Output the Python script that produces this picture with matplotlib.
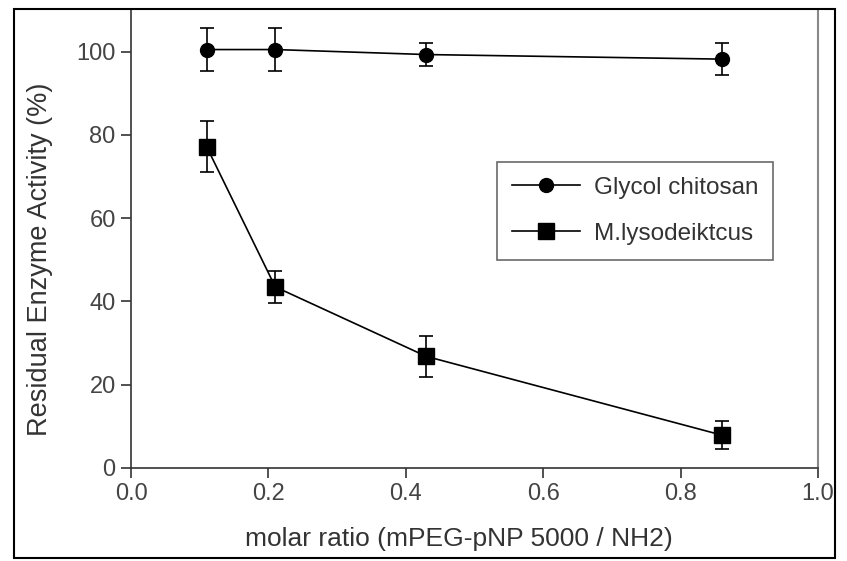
import matplotlib
matplotlib.use("Agg")
import matplotlib.pyplot as plt
from matplotlib.patches import Rectangle

plt.rcParams['font.family'] = ['Liberation Sans', 'DejaVu Sans']

ratio = [0.11, 0.21, 0.43, 0.86]
glycol = [100.5, 100.5, 99.3, 98.2]
glycol_err = [5.2, 5.2, 2.7, 3.8]
lyso = [77.2, 43.5, 26.8, 7.9]
lyso_err = [6.1, 3.8, 5.0, 3.4]
series_names = ['Glycol chitosan', 'M.lysodeiktcus']
x_ticks = [0.0, 0.2, 0.4, 0.6, 0.8, 1.0]
y_ticks = [0, 20, 40, 60, 80, 100]


def main():
    fig = plt.figure(figsize=(8.47, 5.61), dpi=100)
    ax = fig.add_axes([131 / 847, 1 - 468 / 561, (818 - 131) / 847, (468 - 10) / 561])

    # рамка вокруг всей картинки
    fig.patches.append(Rectangle((14 / 847, 3 / 561), (835 - 14) / 847, (552 - 3) / 561,
                                 transform=fig.transFigure, fill=False,
                                 edgecolor='black', linewidth=1.5))

    ax.errorbar(ratio, glycol, yerr=glycol_err, fmt='none', ecolor='black',
                elinewidth=1.2, capsize=5, capthick=1.2)
    ax.errorbar(ratio, lyso, yerr=lyso_err, fmt='none', ecolor='black',
                elinewidth=1.2, capsize=5, capthick=1.2)
    ax.plot(ratio, glycol, color='black', marker='o', markersize=10, linewidth=1.2,
            label=series_names[0])
    ax.plot(ratio, lyso, color='black', marker='s', markersize=11, linewidth=1.2,
            label=series_names[1])

    ax.set_xlim(0, 1.0)
    ax.set_ylim(0, 110)
    ax.set_xticks(x_ticks)
    ax.set_xticklabels(['0.0', '0.2', '0.4', '0.6', '0.8', '1.0'])
    ax.set_yticks(y_ticks)
    ax.tick_params(axis='both', direction='out', length=7, width=1.2, labelsize=17,
                   colors='#333333', labelcolor='#444444', pad=4)
    for side in ['left', 'bottom']:
        ax.spines[side].set_color('#333333')
        ax.spines[side].set_linewidth(1.2)
    ax.spines['right'].set_color('#888888')
    ax.spines['right'].set_linewidth(1.5)
    ax.spines['top'].set_visible(False)

    ax.set_xlabel('molar ratio (mPEG-pNP 5000 / NH2)', fontsize=19, color='#333333')
    ax.set_ylabel('Residual Enzyme Activity (%)', fontsize=19.5, color='#333333')
    ax.xaxis.set_label_coords((459 - 131) / 687, (468 - 527) / 458)
    ax.yaxis.set_label_coords((53 - 131) / 687, (468 - 259) / 458)

    leg = ax.legend(loc='upper left', bbox_to_anchor=((497 - 131) / 687, (468 - 162) / 458),
                    fontsize=17.5, frameon=True, fancybox=False, borderpad=0.6,
                    labelspacing=1.0, handlelength=2.8, handletextpad=0.6,
                    edgecolor='#444444', borderaxespad=0)
    leg.get_frame().set_linewidth(1.2)
    for t in leg.get_texts():
        t.set_color('#333333')

    fig.savefig('out.png', dpi=100)


if __name__ == "__main__":
    main()
